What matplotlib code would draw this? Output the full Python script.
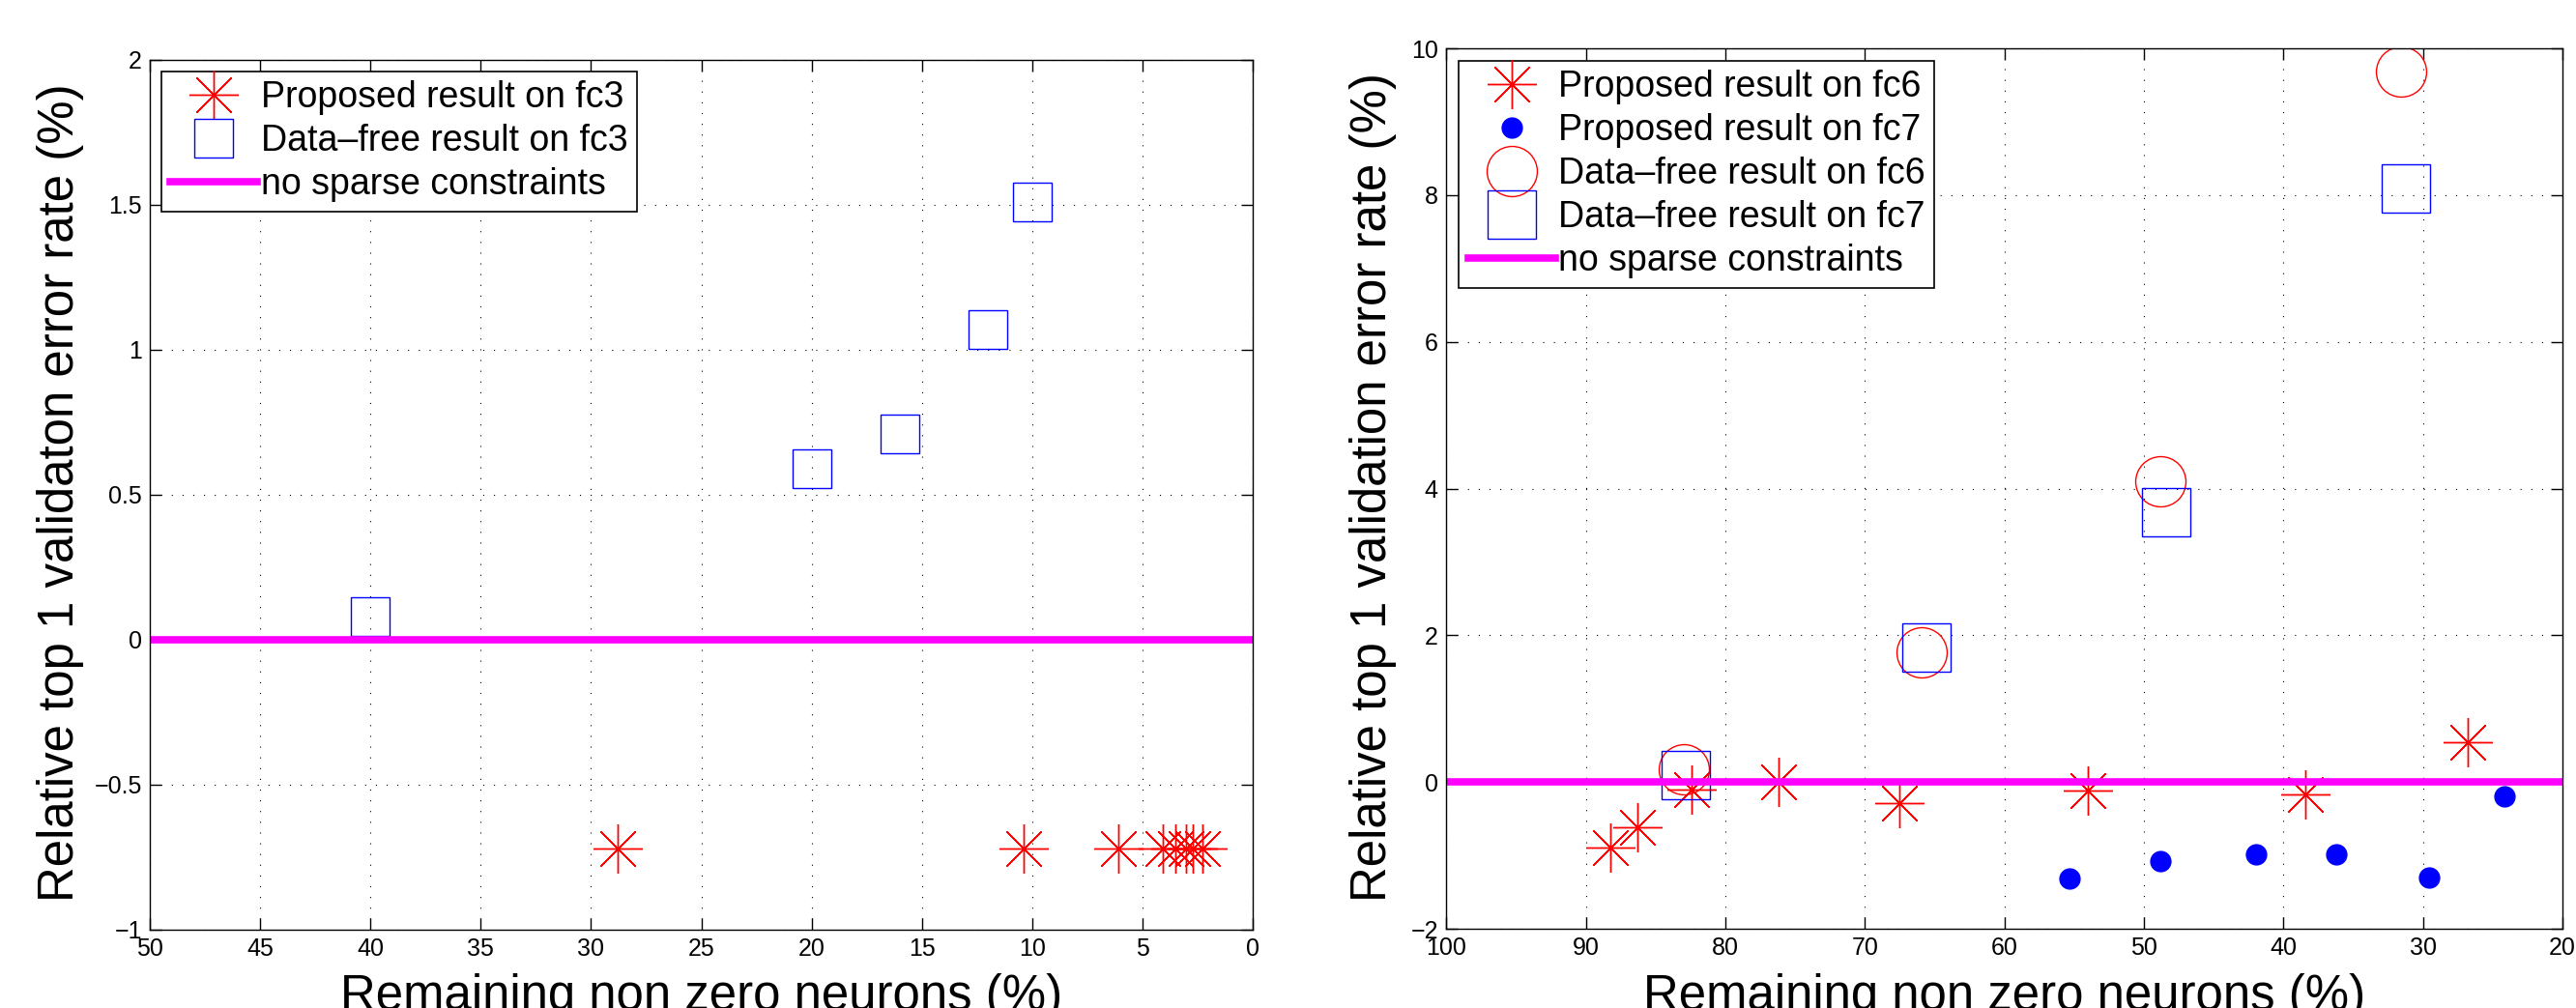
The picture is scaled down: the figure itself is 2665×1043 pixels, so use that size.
import matplotlib
matplotlib.use('Agg')
import matplotlib.pyplot as plt
from matplotlib.ticker import FuncFormatter

plt.rcParams['font.family'] = ['Liberation Sans', 'DejaVu Sans']

# left panel: fc3
fc3_prop_x = [28.8, 10.4, 6.1, 4.06, 3.52, 3.01, 2.72, 2.27]
fc3_prop_y = [-0.72, -0.72, -0.72, -0.72, -0.72, -0.72, -0.72, -0.72]
fc3_free_x = [40, 20, 16, 12, 10]
fc3_free_y = [0.08, 0.59, 0.71, 1.07, 1.51]

# right panel: fc6 / fc7
fc6_prop_x = [88.2, 86.3, 82.4, 76.2, 67.5, 54.0, 38.4, 26.8]
fc6_prop_y = [-0.89, -0.62, -0.10, 0.0, -0.29, -0.11, -0.17, 0.54]
fc7_prop_x = [55.3, 48.8, 42.0, 36.2, 29.6, 24.2]
fc7_prop_y = [-1.31, -1.08, -0.99, -0.99, -1.30, -0.20]
fc6_free_x = [83.0, 65.9, 48.8, 31.6]
fc6_free_y = [0.17, 1.77, 4.10, 9.69]
fc7_free_x = [82.8, 65.6, 48.4, 31.2]
fc7_free_y = [0.09, 1.84, 3.68, 8.09]

baseline = 0

left_xticks = [50, 45, 40, 35, 30, 25, 20, 15, 10, 5, 0]
left_yticks = [-1, -0.5, 0, 0.5, 1, 1.5, 2]
right_xticks = [100, 90, 80, 70, 60, 50, 40, 30, 20]
right_yticks = [-2, 0, 2, 4, 6, 8, 10]

asterisk = (8, 2, 0)
magenta = '#ff00ff'


def fmt(v, pos):
    return ('%g' % v).replace('-', '\u2212')


def style_axes(ax, xticks, yticks):
    ax.set_xticks(xticks)
    ax.set_yticks(yticks)
    ax.set_xlim(max(xticks), min(xticks))
    ax.set_ylim(min(yticks), max(yticks))
    ax.xaxis.set_major_formatter(FuncFormatter(fmt))
    ax.yaxis.set_major_formatter(FuncFormatter(fmt))
    ax.tick_params(direction='in', length=8.6, width=1, top=True, right=True,
                   labelsize=18, pad=6)
    ax.grid(True, linestyle=(0, (1, 9)), color='k', lw=0.8)
    for s in ax.spines.values():
        s.set_linewidth(1)


def add_legend(ax, anchor):
    leg = ax.legend(loc='upper left', bbox_to_anchor=anchor, borderaxespad=0,
                    fontsize=27, borderpad=0.25, handlelength=2.4,
                    handletextpad=0.1, labelspacing=0.24, fancybox=False,
                    framealpha=1, edgecolor='k')
    leg.get_frame().set_linewidth(1.2)


fig = plt.figure(figsize=(26.65, 10.43), dpi=100)

# Left plot
ax1 = fig.add_axes([0.0582, 0.0777, 0.4281, 0.8629])
ax1.plot(fc3_prop_x, fc3_prop_y, linestyle='none', marker=asterisk, ms=36.7,
         mec='r', mew=1.0, label='Proposed result on fc3')
ax1.plot(fc3_free_x, fc3_free_y, linestyle='none', marker='s', ms=28.8,
         mfc='none', mec='b', mew=1.0, label='Data\u2013free result on fc3')
ax1.axhline(baseline, color=magenta, lw=5.5, label='no sparse constraints')
style_axes(ax1, left_xticks, left_yticks)
ax1.set_xlabel('Remaining non zero neurons (%)', fontsize=36.7, va='baseline')
ax1.xaxis.set_label_coords(0.5, -0.092)
ax1.set_ylabel('Relative top 1 validaton error rate (%)', fontsize=36.7, va='center')
ax1.yaxis.set_label_coords(-0.0815, 0.503)
add_legend(ax1, (0.0105, 0.9867))

# Right plot
ax2 = fig.add_axes([0.5614, 0.0786, 0.4334, 0.8734])
ax2.plot(fc6_prop_x, fc6_prop_y, linestyle='none', marker=asterisk, ms=36.7,
         mec='r', mew=1.0, label='Proposed result on fc6')
ax2.plot(fc7_prop_x, fc7_prop_y, linestyle='none', marker='o', ms=15,
         mfc='b', mec='b', label='Proposed result on fc7')
ax2.plot(fc6_free_x, fc6_free_y, linestyle='none', marker='o', ms=37.4,
         mfc='none', mec='r', mew=1.0, label='Data\u2013free result on fc6')
ax2.plot(fc7_free_x, fc7_free_y, linestyle='none', marker='s', ms=36.7,
         mfc='none', mec='b', mew=1.0, label='Data\u2013free result on fc7')
ax2.axhline(baseline, color=magenta, lw=5.5, label='no sparse constraints')
style_axes(ax2, right_xticks, right_yticks)
ax2.set_xlabel('Remaining non zero neurons (%)', fontsize=36.7, va='baseline')
ax2.xaxis.set_label_coords(0.5, -0.092)
ax2.set_ylabel('Relative top 1 validation error rate (%)', fontsize=36.7, va='center')
ax2.yaxis.set_label_coords(-0.0658, 0.502)
add_legend(ax2, (0.0113, 0.9857))

fig.savefig('out.png', dpi=100)
